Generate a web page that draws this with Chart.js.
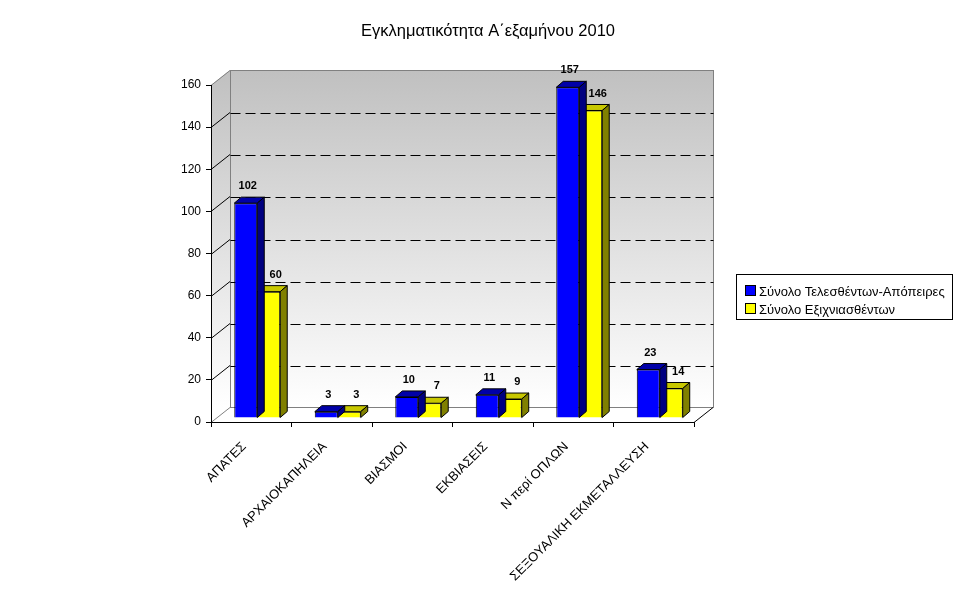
<!DOCTYPE html>
<html>
<head>
<meta charset="utf-8">
<script src="https://cdn.jsdelivr.net/npm/chart.js@4"></script>
<style>
  html, body { margin: 0; background: #fff; }
  #wrap { width: 977px; height: 600px; }
</style>
</head>
<body>
<div id="wrap"><canvas id="chart"></canvas></div>
<script>
var categories = ['ΑΠΑΤΕΣ', 'ΑΡΧΑΙΟΚΑΠΗΛΕΙΑ', 'ΒΙΑΣΜΟΙ', 'ΕΚΒΙΑΣΕΙΣ', 'Ν περί ΟΠΛΩΝ', 'ΣΕΞΟΥΑΛΙΚΗ ΕΚΜΕΤΑΛΛΕΥΣΗ'];
var committed = [102, 3, 10, 11, 157, 23];
var solved = [60, 3, 7, 9, 146, 14];
var seriesNames = ['Σύνολο Τελεσθέντων-Απόπειρες', 'Σύνολο Εξιχνιασθέντων'];
var yMin = 0, yMax = 160, yStep = 20;
var title = 'Εγκληματικότητα Α΄εξαμήνου 2010';

var FONT = '"Liberation Sans", Arial, sans-serif';
// front / top / side colours of each series
var faces = [
  {front: '#0000ff', top: '#0000a8', side: '#000080', labelDx: 2},
  {front: '#ffff00', top: '#c8c800', side: '#808000', labelDx: 7}
];
var wall = {dx: 19, dy: -15};
var shift = {dx: 6, dy: -4};
var depth = {dx: 7, dy: -6};

function poly(ctx, pts, fill) {
  ctx.beginPath();
  ctx.moveTo(pts[0][0], pts[0][1]);
  for (var k = 1; k < pts.length; k++) ctx.lineTo(pts[k][0], pts[k][1]);
  ctx.closePath();
  ctx.fillStyle = fill;
  ctx.fill();
  ctx.lineWidth = 1;
  ctx.strokeStyle = '#000';
  ctx.stroke();
}

function line(ctx, x1, y1, x2, y2, color, dash) {
  ctx.beginPath();
  ctx.setLineDash(dash || []);
  ctx.strokeStyle = color;
  ctx.lineWidth = 1;
  ctx.moveTo(x1, y1);
  ctx.lineTo(x2, y2);
  ctx.stroke();
  ctx.setLineDash([]);
}

var threeD = {
  id: 'threeD',
  beforeDraw(chart) {
    var ctx = chart.ctx, a = chart.chartArea, y = chart.scales.y;
    var top = y.getPixelForValue(yMax), bot = y.getPixelForValue(yMin);
    var L = a.left, R = a.right, dx = wall.dx, dy = wall.dy;
    ctx.save();
    var g = ctx.createLinearGradient(0, top + dy, 0, bot + dy);
    g.addColorStop(0, '#c0c0c0');
    g.addColorStop(1, '#ffffff');
    ctx.fillStyle = g;
    // side wall
    ctx.beginPath();
    ctx.moveTo(L, top); ctx.lineTo(L + dx, top + dy);
    ctx.lineTo(L + dx, bot + dy); ctx.lineTo(L, bot);
    ctx.closePath(); ctx.fill();
    // back wall
    ctx.fillRect(L + dx, top + dy, R - L, bot - top);
    var bx = Math.round(L + dx) + 0.5, br = Math.round(R + dx) + 0.5;
    var bt = Math.round(top + dy) + 0.5, bb = Math.round(bot + dy) + 0.5;
    ctx.strokeStyle = '#808080';
    ctx.lineWidth = 1;
    ctx.strokeRect(bx, bt, br - bx, bb - bt);
    // grid on back wall + diagonals from the axis
    for (var v = yMin; v <= yMax; v += yStep) {
      var py = Math.round(y.getPixelForValue(v)) + 0.5;
      var edge = (v === yMin || v === yMax);
      line(ctx, L, py, L + dx, py + dy, edge ? '#808080' : '#000');
      if (!edge) line(ctx, bx, Math.round(py + dy) + 0.5, br, Math.round(py + dy) + 0.5, '#000', [10, 5]);
    }
    // floor right edge
    line(ctx, R, Math.round(bot) + 0.5, R + dx, bb, '#000');
    ctx.restore();
  },
  beforeDatasetDraw(chart) {
    chart.ctx.save();
    chart.ctx.translate(shift.dx, shift.dy);
  },
  afterDatasetDraw(chart, args) {
    var ctx = chart.ctx, f = faces[args.index];
    args.meta.data.forEach(function (bar) {
      var l = bar.x - bar.width / 2, r = bar.x + bar.width / 2, t = bar.y, b = bar.base;
      poly(ctx, [[l, t], [r, t], [r + depth.dx, t + depth.dy], [l + depth.dx, t + depth.dy]], f.top);
      poly(ctx, [[r, t], [r + depth.dx, t + depth.dy], [r + depth.dx, b + depth.dy], [r, b]], f.side);
    });
    ctx.restore();
  },
  afterDatasetsDraw(chart) {
    var ctx = chart.ctx;
    ctx.save();
    ctx.font = 'bold 11px ' + FONT;
    ctx.fillStyle = '#000';
    ctx.textAlign = 'center';
    ctx.textBaseline = 'middle';
    chart.data.datasets.forEach(function (ds, i) {
      chart.getDatasetMeta(i).data.forEach(function (bar, j) {
        ctx.fillText(String(ds.data[j]), bar.x + shift.dx + faces[i].labelDx, bar.y + shift.dy - 17);
      });
    });
    ctx.restore();
  },
  afterDraw(chart) {
    var ctx = chart.ctx;
    ctx.save();
    ctx.fillStyle = '#000';
    ctx.font = '16.5px ' + FONT;
    ctx.textAlign = 'center';
    ctx.textBaseline = 'middle';
    ctx.fillText(title, 488, 31);
    // legend
    ctx.strokeStyle = '#000';
    ctx.lineWidth = 1;
    ctx.strokeRect(736.5, 274.5, 216, 45);
    ctx.font = '13px ' + FONT;
    ctx.textAlign = 'left';
    chart.data.datasets.forEach(function (ds, i) {
      var cy = 291 + i * 18;
      ctx.fillStyle = ds.backgroundColor;
      ctx.fillRect(745.5, cy - 5.5, 10, 10);
      ctx.strokeRect(745.5, cy - 5.5, 10, 10);
      ctx.fillStyle = '#000';
      ctx.fillText(ds.label, 759, cy + 1);
    });
    ctx.restore();
  }
};

new Chart(document.getElementById('chart'), {
  type: 'bar',
  data: {
    labels: categories,
    datasets: [
      {label: seriesNames[0], data: committed, backgroundColor: faces[0].front},
      {label: seriesNames[1], data: solved, backgroundColor: faces[1].front}
    ]
  },
  options: {
    responsive: true,
    maintainAspectRatio: false,
    animation: false,
    devicePixelRatio: 1,
    layout: {padding: {top: 85, right: 283, bottom: 0, left: 0}},
    datasets: {bar: {
      borderColor: '#000', borderWidth: 1, clip: false,
      categoryPercentage: 0.571, barPercentage: 1
    }},
    plugins: {legend: {display: false}, title: {display: false}, tooltip: {enabled: false}},
    scales: {
      x: {
        grid: {drawOnChartArea: false, drawTicks: true, tickLength: 5, color: '#000', offset: true},
        border: {display: true, color: '#000'},
        ticks: {minRotation: 45, maxRotation: 45, autoSkip: false, color: '#000',
          font: {size: 13, family: FONT}, padding: 12, labelOffset: -7},
        afterFit: function (s) { s.height = 178; }
      },
      y: {
        min: yMin, max: yMax,
        grid: {drawOnChartArea: false, drawTicks: true, tickLength: 5, color: '#000'},
        border: {display: true, color: '#000'},
        ticks: {stepSize: yStep, color: '#000', font: {size: 12, family: FONT}, padding: 5},
        afterFit: function (s) { s.width = 211; }
      }
    }
  },
  plugins: [threeD]
});
</script>
</body>
</html>
